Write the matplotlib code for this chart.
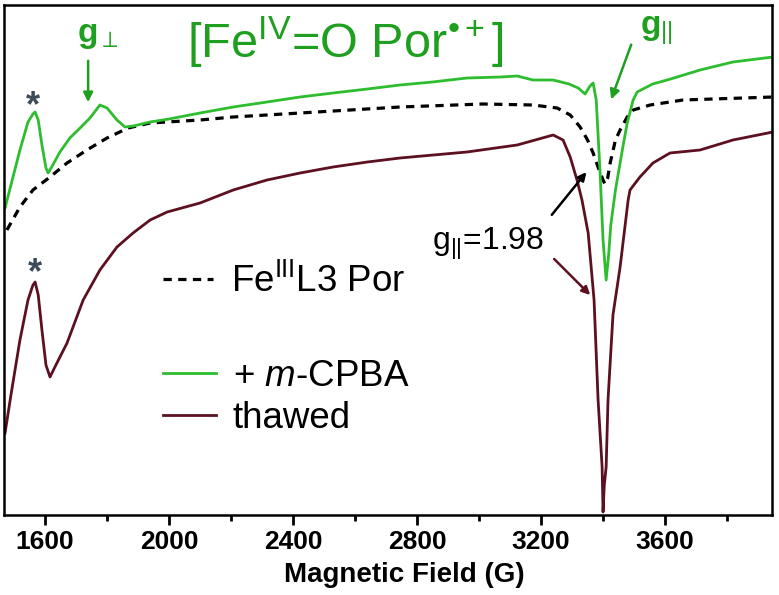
import matplotlib
matplotlib.use('Agg')
import matplotlib.pyplot as plt
from matplotlib.lines import Line2D

plt.rcParams['font.family'] = ['Liberation Sans', 'DejaVu Sans']
plt.rcParams['mathtext.fontset'] = 'custom'
plt.rcParams['mathtext.rm'] = 'Liberation Sans'
plt.rcParams['mathtext.it'] = 'Liberation Sans:italic'
plt.rcParams['mathtext.bf'] = 'Liberation Sans:bold'

# field (G) and intensity (a.u.)
field_green = [1471, 1490, 1519, 1545, 1561, 1568, 1578, 1590, 1603, 1610, 1625, 1648, 1680,
               1713, 1745, 1777, 1800, 1832, 1858, 1885, 1939, 2000, 2100, 2207, 2316, 2423,
               2529, 2640, 2745, 2850, 2961, 3070, 3123, 3174, 3239, 3290, 3320, 3342, 3358,
               3368, 3378, 3390, 3400, 3410, 3418, 3425, 3440, 3455, 3465, 3478, 3497, 3510,
               3560, 3607, 3713, 3819, 3948]
int_green = [307, 330, 365, 393, 401, 403, 395, 370, 347, 342, 350, 363, 377,
             387, 397, 410, 407, 395, 388, 389, 393, 396, 402, 408, 413, 418,
             422, 426, 430, 433, 437, 438, 439, 435, 435, 431, 427, 421, 429,
             432, 415, 345, 275, 235, 260, 290, 325, 352, 370, 392, 415, 423,
             431, 435, 445, 453, 458]

field_dash = [1477, 1519, 1561, 1616, 1671, 1735, 1800, 1868, 1939, 2100, 2207, 2423, 2745,
              3013, 3174, 3252, 3294, 3326, 3350, 3368, 3385, 3400, 3406, 3415, 3423, 3440,
              3455, 3478, 3497, 3552, 3658, 3948]
int_dash = [285, 308, 325, 338, 352, 365, 377, 387, 392, 395, 398, 402, 408,
            411, 410, 407, 400, 388, 375, 362, 347, 335, 331, 337, 352, 375,
            385, 398, 405, 410, 415, 418]

field_thawed = [1471, 1490, 1519, 1545, 1561, 1568, 1578, 1590, 1603, 1616, 1635, 1671, 1723,
                1777, 1832, 1884, 1939, 1994, 2100, 2207, 2316, 2423, 2529, 2640, 2745, 2961,
                3123, 3239, 3271, 3294, 3316, 3332, 3352, 3371, 3384, 3397, 3400, 3404, 3410,
                3416, 3432, 3455, 3481, 3487, 3519, 3561, 3616, 3713, 3819, 3948]
int_thawed = [82, 120, 175, 215, 230, 233, 220, 185, 150, 138, 150, 172, 215,
              245, 268, 282, 295, 303, 312, 325, 335, 342, 348, 353, 357, 363,
              370, 380, 375, 358, 335, 315, 282, 215, 115, 48, 3, 30, 48,
              115, 200, 248, 315, 325, 338, 352, 362, 365, 375, 383]

x_ticks = [1600, 2000, 2400, 2800, 3200, 3600]

green = '#2ebd2e'
green_txt = '#1f9f1f'
maroon = '#5c1020'

fig = plt.figure(figsize=(7.79, 5.95), dpi=100)
ax = fig.add_axes([3.5 / 779, 1 - 515 / 595, 768.5 / 779, 510 / 595])

ax.plot(field_dash, int_dash, color='black', lw=2.3, dashes=(2.6, 2.0))
ax.plot(field_green, int_green, color=green, lw=2.0)
ax.plot(field_thawed, int_thawed, color=maroon, lw=2.0)

ax.set_xlim(1466, 3945)
ax.set_ylim(0, 510)
ax.set_yticks([])
ax.set_xticks(x_ticks)
ax.set_xticks(range(1800, 3900, 400), minor=True)
ax.tick_params(axis='x', which='major', direction='out', length=7, width=2, pad=4)
ax.tick_params(axis='x', which='minor', direction='out', length=4, width=2)
for lab in ax.get_xticklabels():
    lab.set_fontweight('bold')
    lab.set_fontsize(19)
for sp in ax.spines.values():
    sp.set_linewidth(1.8)

ax.set_xlabel('Magnetic Field (G)', fontsize=20, fontweight='bold')
ax.xaxis.set_label_coords(0.522, -0.092)

# annotations
ax.text(2568, 457, '[Fe$^{\\rm IV}$=O Por$^{\u2022+}$]', color=green_txt, fontsize=35,
        ha='center', va='baseline')
ax.text(1703, 473, r'g$_{\mathregular{\perp}}$', color=green_txt, fontsize=24,
        fontweight='bold', ha='left', va='baseline')
ax.annotate('', xy=(1739, 410), xytext=(1739, 457),
            arrowprops=dict(arrowstyle='-|>', color=green_txt, lw=1.8, mutation_scale=14))
ax.text(3519, 480, r'g$_{||}$', color=green_txt, fontsize=24, fontweight='bold',
        ha='left', va='baseline')
ax.annotate('', xy=(3423, 413), xytext=(3494, 473),
            arrowprops=dict(arrowstyle='-|>', color=green_txt, lw=1.8, mutation_scale=14))
ax.text(1562, 408, '*', color='#3d4a58', fontsize=26, fontweight='bold',
        ha='center', va='center')
ax.text(1568, 241, '*', color='#3d4a58', fontsize=26, fontweight='bold',
        ha='center', va='center')

ax.text(2848, 265, r'g$_{||}$=1.98', color='black', fontsize=23, ha='left', va='baseline')
ax.annotate('', xy=(3352, 345), xytext=(3229, 298),
            arrowprops=dict(arrowstyle='-|>', color='black', lw=1.8, mutation_scale=12))
ax.annotate('', xy=(3365, 218), xytext=(3236, 258),
            arrowprops=dict(arrowstyle='-|>', color=maroon, lw=1.8, mutation_scale=12))

# legend in two parts (uneven spacing)
h1 = [Line2D([], [], color='black', lw=2.3, dashes=(2.6, 2.0))]
leg1 = ax.legend(h1, [r'Fe$^{\rm III}$L3 Por'], loc='center left',
                 bbox_to_anchor=(0.2075, 0.457), frameon=False, fontsize=26.5,
                 handlelength=1.35, handletextpad=0.5, borderpad=0, borderaxespad=0)
ax.add_artist(leg1)
h2 = [Line2D([], [], color=green, lw=2.0), Line2D([], [], color=maroon, lw=2.0)]
ax.legend(h2, [r'+ $m$-CPBA', 'thawed'], loc='center left',
          bbox_to_anchor=(0.2075, 0.230), frameon=False, fontsize=26.5,
          handlelength=1.45, handletextpad=0.45, labelspacing=0.2,
          borderpad=0, borderaxespad=0)

fig.savefig('out.png', dpi=100)
